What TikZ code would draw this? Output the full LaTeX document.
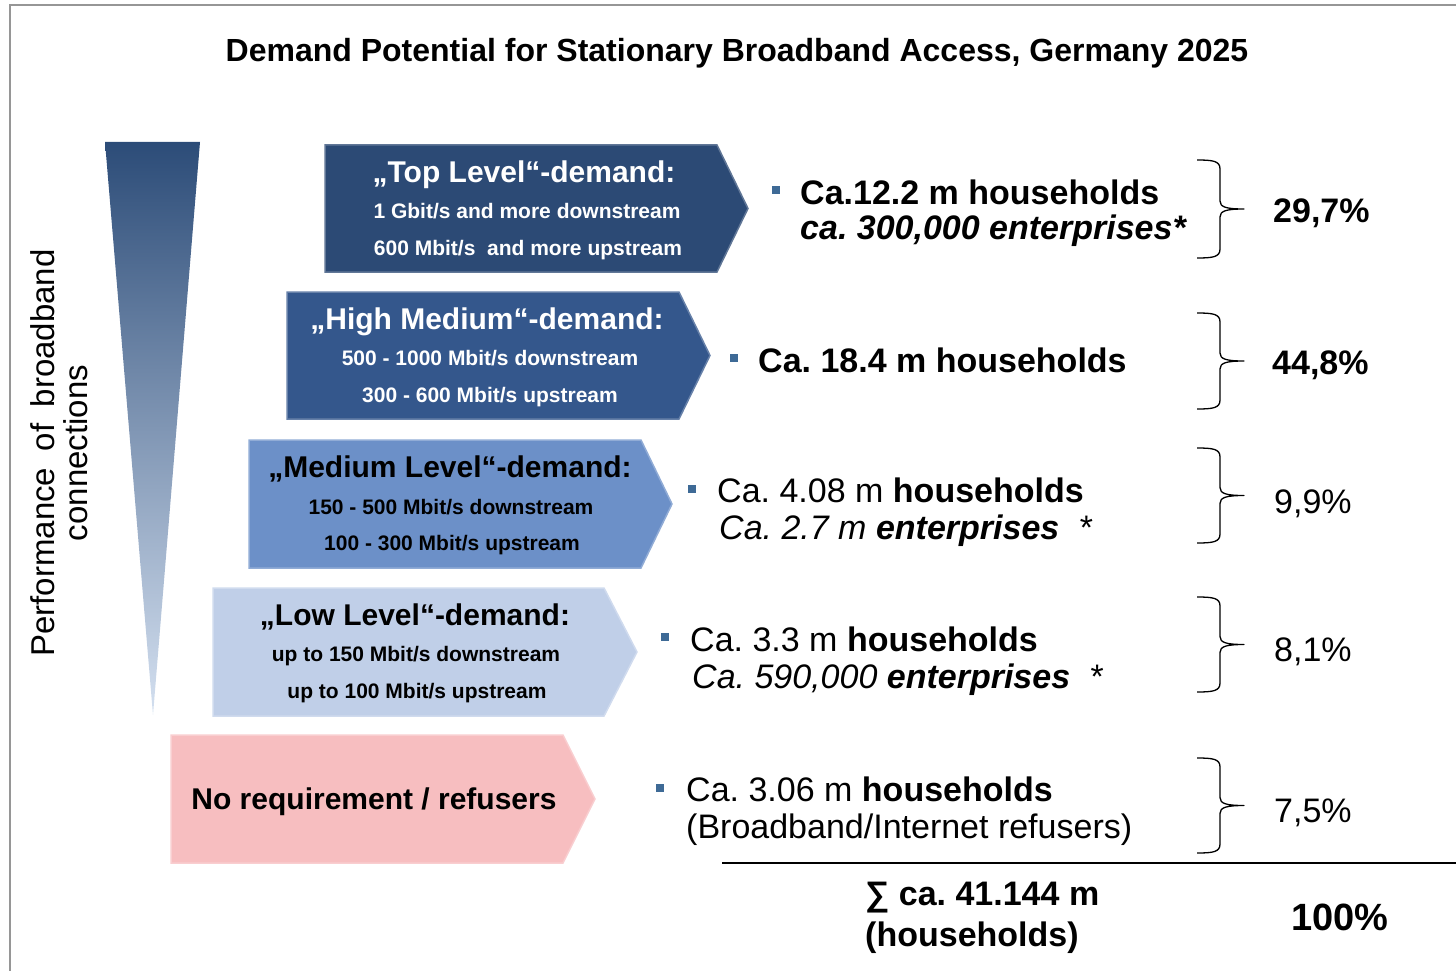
\documentclass[tikz,border=0pt]{standalone}
\usepackage{fontspec}
\setmainfont{Liberation Sans}
\definecolor{cTop}{RGB}{44,74,117}
\definecolor{cHigh}{RGB}{52,87,140}
\definecolor{cMed}{RGB}{108,144,200}
\definecolor{cLow}{RGB}{192,207,232}
\definecolor{cNo}{RGB}{247,190,192}
\definecolor{cTriTop}{RGB}{44,76,120}
\definecolor{cTriBot}{RGB}{212,224,240}
\definecolor{cBullet}{RGB}{62,106,150}
\definecolor{cFrame}{RGB}{150,150,150}
\newcommand{\mkarrow}[6]{%
  \path[fill=#6, draw=#6!75!white, line width=1.5pt]
    (#1,#2) -- (#4,#2) -- (#5,{(#2+#3)/2}) -- (#4,#3) -- (#1,#3) -- cycle;}
% right curly brace: x left end 1197, stem 1220, tip 1244
\newcommand{\mkbrace}[2]{%
  \draw[line width=1.3pt, line join=round]
    (1197,#1) .. controls (1213,#1) and (1220,{#1+1}) .. (1220,{#1+9})
    -- (1220,{(#1+#2)/2-8}) .. controls (1220,{(#1+#2)/2-2}) and (1226,{(#1+#2)/2}) .. (1244,{(#1+#2)/2})
    .. controls (1226,{(#1+#2)/2}) and (1220,{(#1+#2)/2+2}) .. (1220,{(#1+#2)/2+8})
    -- (1220,{#2-9}) .. controls (1220,{#2-1}) and (1213,#2) .. (1197,#2);}
\begin{document}
\frenchspacing
\begin{tikzpicture}[x=1pt,y=-1pt,
  head/.style={font=\fontsize{30}{34}\selectfont\bfseries, anchor=base, inner sep=0pt},
  sub/.style={font=\fontsize{21}{24}\selectfont\bfseries, anchor=base, inner sep=0pt},
  rtext/.style={font=\fontsize{34}{38}\selectfont, anchor=base west, inner sep=0pt},
  pct/.style={font=\fontsize{34}{38}\selectfont, anchor=base west, inner sep=0pt},
  bulletsq/.style={fill=cBullet, minimum size=8pt, inner sep=0pt, draw=none}
]
\useasboundingbox (0,0) rectangle (1456,971);
% frame
\draw[cFrame, line width=2pt] (10,971) -- (10,5) -- (1456,5);
% title
\node[font=\fontsize{32}{36}\selectfont\bfseries, anchor=base, inner sep=0pt] (title) at (737,62)
  {Demand Potential for Stationary Broadband Access, Germany 2025};
% triangle
\shade[top color=cTriTop, bottom color=cTriBot] (105,142) -- (200,142) -- (153,715) -- cycle;
% vertical label
\node[rotate=90, align=center, font=\fontsize{33}{33}\selectfont, inner sep=0pt] (perf) at (59,453)
  {Performance\hspace{0.5em}of\hspace{0.5em}broadband\\connections};
% arrow boxes
\mkarrow{325}{145}{272}{717}{748}{cTop}
\mkarrow{287}{292}{419}{679}{710}{cHigh}
\mkarrow{249}{440}{568}{641}{672}{cMed}
\mkarrow{213}{588}{716}{604}{637}{cLow}
\mkarrow{171}{735}{863}{563}{595}{cNo}
% box texts
\node[head, white] (t1a) at (524,182) {„Top Level“-demand:};
\node[sub, white] (t1b) at (527,218) {1 Gbit/s and more downstream};
\node[sub, white] (t1c) at (528,255) {600 Mbit/s\ \ and more upstream};
\node[head, white] (t2a) at (487,329) {„High Medium“-demand:};
\node[sub, white] (t2b) at (490,365) {500 - 1000 Mbit/s downstream};
\node[sub, white] (t2c) at (490,402) {300 - 600 Mbit/s upstream};
\node[head, black] (t3a) at (450,477) {„Medium Level“-demand:};
\node[sub, black] (t3b) at (451,514) {150 - 500 Mbit/s downstream};
\node[sub, black] (t3c) at (452,550) {100 - 300 Mbit/s upstream};
\node[head, black] (t4a) at (415,625) {„Low Level“-demand:};
\node[sub, black] (t4b) at (416,661) {up to 150 Mbit/s downstream};
\node[sub, black] (t4c) at (417,698) {up to 100 Mbit/s upstream};
\node[head, black] (t5a) at (374,809) {No requirement / refusers};
% bullets
\node[bulletsq] (b1) at (776,190) {};
\node[bulletsq] (b2) at (734,358) {};
\node[bulletsq] (b3) at (692,489) {};
\node[bulletsq] (b4) at (665,637) {};
\node[bulletsq] (b5) at (660,788) {};
% right texts
\node[rtext] (r1a) at (800,204) {\bfseries Ca.12.2 m households};
\node[rtext] (r1b) at (800,239) {\bfseries\itshape ca. 300,000 enterprises*};
\node[rtext] (r2a) at (758,372) {\bfseries Ca. 18.4 m households};
\node[rtext] (r3a) at (717,502) {Ca. 4.08 m \textbf{households}};
\node[rtext] (r3b) at (719,539) {\itshape Ca. 2.7 m \textbf{enterprises}\ \ *};
\node[rtext] (r4a) at (690,651) {Ca. 3.3 m \textbf{households}};
\node[rtext] (r4b) at (692,688) {\itshape Ca. 590,000 \textbf{enterprises}\ \ *};
\node[rtext] (r5a) at (686,801) {Ca. 3.06 m \textbf{households}};
\node[rtext] (r5b) at (686,838) {(Broadband/Internet\ refusers)};
% braces
\mkbrace{160}{258}
\mkbrace{313}{409}
\mkbrace{448}{543}
\mkbrace{597}{692}
\mkbrace{758}{853}
% percentages
\node[pct, font=\fontsize{34}{38}\selectfont\bfseries] (p1) at (1273,222) {29,7\%};
\node[pct, font=\fontsize{34}{38}\selectfont\bfseries] (p2) at (1272,374) {44,8\%};
\node[pct] (p3) at (1274,513) {9,9\%};
\node[pct] (p4) at (1274,661) {8,1\%};
\node[pct] (p5) at (1274,822) {7,5\%};
% sum line
\draw[line width=2pt] (722,863) -- (1456,863);
\node[rtext, font=\fontsize{34}{38}\selectfont\bfseries] (s1) at (865,905) {∑ ca. 41.144 m};
\node[rtext, font=\fontsize{34}{38}\selectfont\bfseries] (s2) at (865,946) {(households)};
\node[pct, font=\fontsize{38}{40}\selectfont\bfseries] (p6) at (1291,930) {100\%};
\end{tikzpicture}
\end{document}
